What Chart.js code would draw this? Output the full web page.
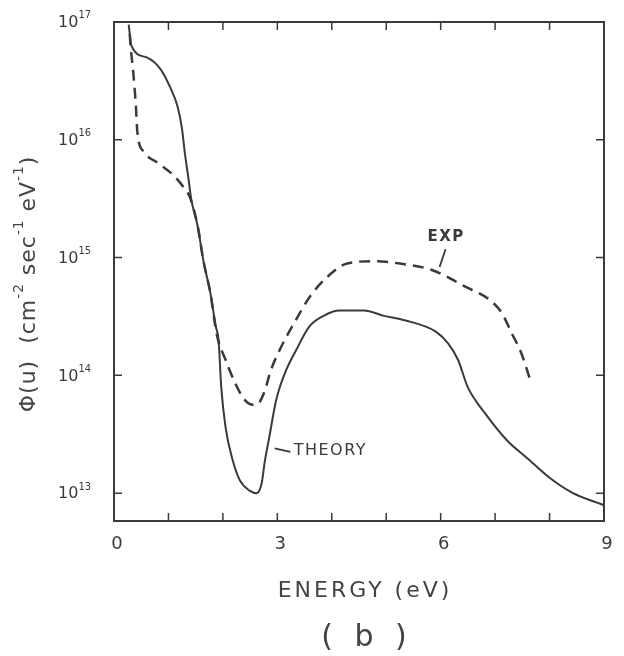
<!DOCTYPE html>
<html>
<head>
<meta charset="utf-8">
<script src="https://cdn.jsdelivr.net/npm/chart.js@4"></script>
<style>
  body { margin: 0; background: #fff; }
  canvas { display: block; }
</style>
</head>
<body>
<canvas id="myChart" width="624" height="656"></canvas>
<script>
// values (energy in eV, flux in cm^-2 sec^-1 eV^-1)
const theoryEnergy = [0.27, 0.32, 0.60, 0.85, 1.03, 1.17, 1.25, 1.30, 1.37, 1.42, 1.54, 1.64, 1.77, 1.87, 1.92, 1.97, 2.05, 2.18, 2.31, 2.49, 2.62, 2.71, 2.77, 2.85, 2.98, 3.16, 3.34, 3.59, 3.85, 4.14, 4.59, 4.96, 5.32, 5.91, 6.14, 6.32, 6.50, 6.81, 7.22, 7.58, 8.00, 8.43, 9.00];
const theoryFlux = [9.5e16, 6.3e16, 5.0e16, 4.0e16, 2.8e16, 1.9e16, 1.23e16, 7.8e15, 4.6e15, 3.1e15, 1.82e15, 9.5e14, 5.0e14, 2.6e14, 2.0e14, 7.9e13, 3.6e13, 1.9e13, 1.29e13, 1.05e13, 1.0e13, 1.2e13, 1.86e13, 2.95e13, 6.2e13, 1.1e14, 1.62e14, 2.6e14, 3.2e14, 3.55e14, 3.55e14, 3.2e14, 2.95e14, 2.35e14, 1.86e14, 1.35e14, 7.9e13, 4.8e13, 2.8e13, 2.0e13, 1.35e13, 1.0e13, 7.9e12];

const expEnergy = [0.29, 0.30, 0.35, 0.40, 0.43, 0.55, 0.82, 1.09, 1.27, 1.40, 1.54, 1.64, 1.77, 1.89, 2.05, 2.23, 2.40, 2.58, 2.67, 2.77, 2.88, 3.07, 3.34, 3.59, 3.91, 4.28, 4.76, 5.25, 5.85, 6.47, 6.89, 7.12, 7.30, 7.48, 7.64];
const expFlux = [7.9e16, 6.6e16, 3.9e16, 2.0e16, 1.15e16, 7.9e15, 6.3e15, 5.0e15, 4.0e15, 3.2e15, 1.82e15, 9.5e14, 5.0e14, 2.2e14, 1.35e14, 8.5e13, 6.2e13, 5.6e13, 5.9e13, 7.4e13, 1.1e14, 1.74e14, 2.95e14, 4.6e14, 6.8e14, 8.9e14, 9.3e14, 8.9e14, 7.8e14, 5.6e14, 4.4e14, 3.4e14, 2.3e14, 1.55e14, 9.3e13];

const xTickLabels = [0, 3, 6, 9];
const yDecades = [13, 14, 15, 16, 17];

const ink = "#3a3a3a";

function toPoints(xs, ys) {
  return xs.map((x, i) => ({ x: x, y: ys[i] }));
}

// text with superscript pieces: [[text, isSup], ...]
function drawParts(ctx, parts, x, y, size, align) {
  let total = 0;
  parts.forEach(p => {
    ctx.font = (p[1] ? size * 0.62 : size) + "px 'DejaVu Sans'";
    total += ctx.measureText(p[0]).width;
  });
  let cx = align === "right" ? x - total : align === "center" ? x - total / 2 : x;
  parts.forEach(p => {
    ctx.font = (p[1] ? size * 0.62 : size) + "px 'DejaVu Sans'";
    ctx.fillText(p[0], cx, p[1] ? y - size * 0.45 : y);
    cx += ctx.measureText(p[0]).width;
  });
}

const decorations = {
  id: "decorations",
  afterDatasetsDraw(chart) {
    const ctx = chart.ctx;
    const a = chart.chartArea;
    const xs = chart.scales.x;
    const ys = chart.scales.y;
    ctx.save();
    ctx.strokeStyle = ink;
    ctx.fillStyle = ink;

    // frame
    ctx.lineWidth = 2;
    ctx.strokeRect(a.left, a.top, a.right - a.left, a.bottom - a.top);

    // inward ticks
    ctx.lineWidth = 1.5;
    ctx.beginPath();
    for (let v = 1; v < 9; v++) {
      const px = xs.getPixelForValue(v);
      ctx.moveTo(px, a.bottom); ctx.lineTo(px, a.bottom - 8);
      ctx.moveTo(px, a.top); ctx.lineTo(px, a.top + 8);
    }
    yDecades.forEach(d => {
      if (d === 17) return;
      const py = ys.getPixelForValue(Math.pow(10, d));
      ctx.moveTo(a.left, py); ctx.lineTo(a.left + 8, py);
      ctx.moveTo(a.right, py); ctx.lineTo(a.right - 8, py);
    });
    ctx.stroke();

    // y tick labels
    ctx.textBaseline = "middle";
    yDecades.forEach(d => {
      const py = ys.getPixelForValue(Math.pow(10, d));
      drawParts(ctx, [["10", false], [String(d), true]], a.left - 23, py + 1, 16, "right");
    });

    // x tick labels
    ctx.textAlign = "center";
    ctx.font = "18px 'DejaVu Sans'";
    xTickLabels.forEach(v => {
      ctx.fillText(String(v), xs.getPixelForValue(v) + 3, a.bottom + 23);
    });

    // axis titles
    ctx.fillStyle = "#444";
    ctx.font = "22px 'DejaVu Sans'";
    ctx.letterSpacing = "3px";
    ctx.fillText("ENERGY (eV)", (a.left + a.right) / 2 + 6, a.bottom + 70);
    ctx.font = "30px 'DejaVu Sans'";
    ctx.letterSpacing = "6px";
    ctx.fillText("( b )", (a.left + a.right) / 2 + 8, a.bottom + 117);

    ctx.save();
    ctx.translate(29, 284);
    ctx.rotate(-Math.PI / 2);
    ctx.textAlign = "left";
    ctx.letterSpacing = "1px";
    drawParts(ctx, [["\u03A6(u)  (cm", false], ["-2", true], [" sec", false], ["-1", true], [" eV", false], ["-1", true], [")", false]], 0, 0, 22, "center");
    ctx.restore();

    // curve labels with pointers
    ctx.fillStyle = ink;
    ctx.textAlign = "left";
    ctx.font = "16px 'DejaVu Sans'";
    ctx.letterSpacing = "1.5px";
    const tx = xs.getPixelForValue(3.3), ty = ys.getPixelForValue(Math.pow(10, 13.36));
    ctx.fillText("THEORY", tx, ty);
    ctx.font = "bold 15px 'DejaVu Sans'";
    const ex = xs.getPixelForValue(6.1), ey = ys.getPixelForValue(Math.pow(10, 15.17));
    ctx.textAlign = "center";
    ctx.fillText("EXP", ex, ey);
    ctx.letterSpacing = "0px";

    ctx.lineWidth = 1.8;
    ctx.beginPath();
    ctx.moveTo(xs.getPixelForValue(2.95), ys.getPixelForValue(Math.pow(10, 13.38)));
    ctx.lineTo(xs.getPixelForValue(3.24), ys.getPixelForValue(Math.pow(10, 13.35)));
    ctx.moveTo(xs.getPixelForValue(6.09), ys.getPixelForValue(Math.pow(10, 15.07)));
    ctx.lineTo(xs.getPixelForValue(5.98), ys.getPixelForValue(Math.pow(10, 14.92)));
    ctx.stroke();

    ctx.restore();
  }
};

const datasets = [
  {
    label: "THEORY",
    data: toPoints(theoryEnergy, theoryFlux),
    borderColor: ink,
    borderWidth: 2,
    pointRadius: 0,
    cubicInterpolationMode: "monotone"
  },
  {
    label: "EXP",
    data: toPoints(expEnergy, expFlux),
    borderColor: ink,
    borderWidth: 2.5,
    borderDash: [11, 7],
    pointRadius: 0,
    cubicInterpolationMode: "monotone"
  }
];

const config = {
  type: "line",
  data: { datasets },
  options: {
    responsive: false,
    animation: false,
    layout: { padding: { left: 114, right: 20, top: 22, bottom: 135 } },
    plugins: { legend: { display: false }, tooltip: { enabled: false } },
    scales: {
      x: { type: "linear", min: 0, max: 9, display: false },
      y: { type: "logarithmic", min: 5.8e12, max: 1e17, display: false }
    }
  },
  plugins: [decorations]
};

new Chart(document.getElementById("myChart"), config);
</script>
</body>
</html>
